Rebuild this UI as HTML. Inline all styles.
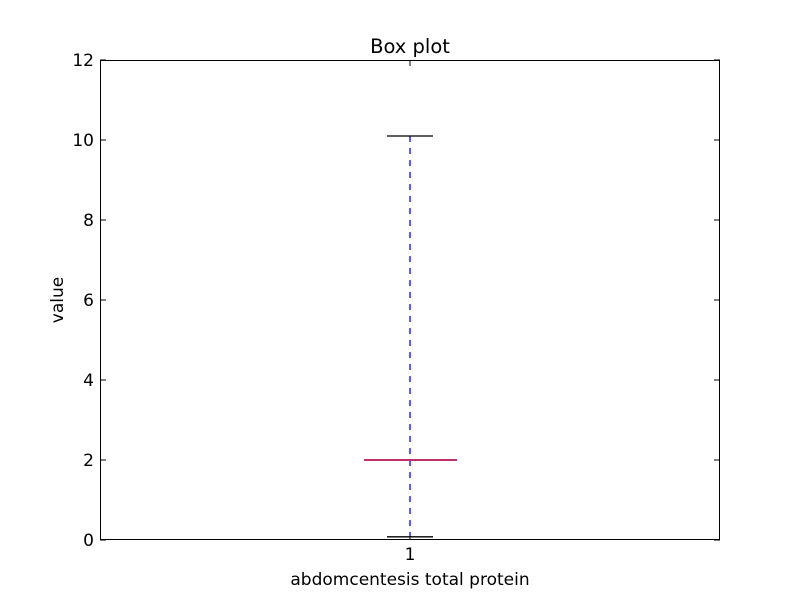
<!DOCTYPE html>
<html><head><meta charset="utf-8"><style>body{margin:0;background:#fff}svg{display:block;font-family:"DejaVu Sans","Liberation Sans",sans-serif}</style></head>
<body>
<svg id="c" width="800" height="600" xmlns="http://www.w3.org/2000/svg">
<rect width="800" height="600" fill="#fff"/>
<text x="410" y="53" font-size="19.5" text-anchor="middle">Box plot</text>
<text x="410" y="585" font-size="17" text-anchor="middle">abdomcentesis total protein</text>
<text transform="translate(63,300) rotate(-90)" font-size="17" text-anchor="middle">value</text>
<g id="ticks" shape-rendering="crispEdges"></g>
<g id="marks"></g>
<rect x="100.5" y="60.5" width="619" height="479" fill="none" stroke="#000" stroke-width="1" shape-rendering="crispEdges"/>
</svg>
<script>
const yTicks=[0,2,4,6,8,10,12];
const categories=["1"];
const whiskerLow=[0.08];
const q1=[2];
const medians=[2];
const q3=[2];
const whiskerHigh=[10.1];
const NS="http://www.w3.org/2000/svg";
const y=v=>540-v*40;
const x=i=>410+i*100;
function mk(t,a,p){const e=document.createElementNS(NS,t);for(const k in a)e.setAttribute(k,a[k]);p.appendChild(e);return e;}
const tg=document.getElementById('ticks'),mg=document.getElementById('marks');
yTicks.forEach(v=>{
 let l=mk('line',{x1:100,x2:106,y1:y(v),y2:y(v),stroke:'#000'},tg);
 
 
 let r=mk('line',{x1:714,x2:720,y1:y(v),y2:y(v),stroke:'#000'},tg);
 
 
 let t=mk('text',{x:94,y:y(v)+6,'font-size':17,'text-anchor':'end'},tg);t.textContent=v;
 
 
});
categories.forEach((c,i)=>{
 const cx=x(i);
 let a=mk('line',{x1:cx,x2:cx,y1:540,y2:534,stroke:'#000'},tg);
 
 
 let b=mk('line',{x1:cx,x2:cx,y1:60,y2:66,stroke:'#000'},tg);
 
 
 let t=mk('text',{x:cx,y:560,'font-size':17,'text-anchor':'middle'},tg);t.textContent=c;
 
 
 let w=mk('line',{x1:cx,x2:cx,y1:y(whiskerHigh[i]),y2:y(whiskerLow[i]),stroke:'#0000ff','stroke-dasharray':'6,6','stroke-width':1.3},mg);
 
 
 let bx=mk('rect',{x:cx-46,y:y(q3[i]),width:92,height:Math.max(0,y(q1[i])-y(q3[i])),fill:'none',stroke:'#0000ff'},mg);
 
 
 let m=mk('line',{x1:cx-46,x2:cx+47,y1:y(medians[i]),y2:y(medians[i]),stroke:'#c0306a','stroke-width':2},mg);
 
 
 let ch=mk('line',{x1:cx-23,x2:cx+23,y1:y(whiskerHigh[i]),y2:y(whiskerHigh[i]),stroke:'#000','stroke-width':1.3},mg);
 
 
 let cl=mk('line',{x1:cx-23,x2:cx+23,y1:y(whiskerLow[i]),y2:y(whiskerLow[i]),stroke:'#000','stroke-width':1.3},mg);
 
 
});
</script>
</body></html>
